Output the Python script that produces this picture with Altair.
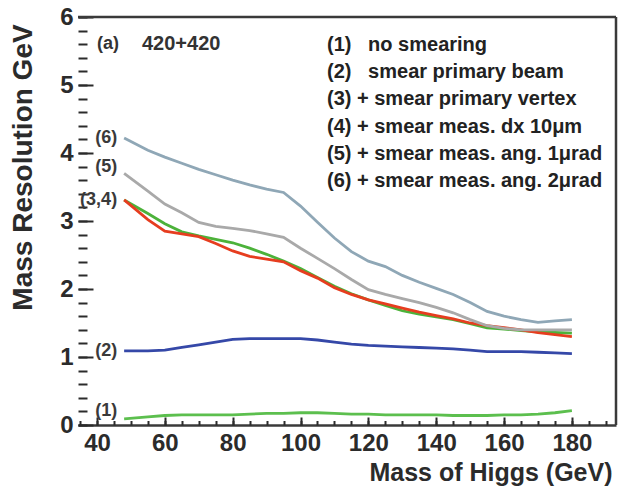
import altair as alt
import pandas as pd

# Higgs mass points (GeV) at which the resolution was evaluated
mass = [48, 55, 60, 65, 70, 75, 80, 85, 90, 95, 100, 105, 110, 115,
        120, 125, 130, 135, 140, 145, 150, 155, 160, 165, 170, 175, 180]

# Mass resolution (GeV) for each smearing scenario
res_no_smearing = [0.09, 0.12, 0.14, 0.15, 0.15, 0.15, 0.15, 0.16, 0.17, 0.17, 0.18, 0.18, 0.17, 0.16,
                   0.16, 0.15, 0.15, 0.15, 0.15, 0.14, 0.14, 0.14, 0.15, 0.15, 0.16, 0.18, 0.21]
res_beam = [1.09, 1.09, 1.10, 1.14, 1.18, 1.22, 1.26, 1.27, 1.27, 1.27, 1.27, 1.25, 1.22, 1.19,
            1.17, 1.16, 1.15, 1.14, 1.13, 1.12, 1.10, 1.08, 1.08, 1.08, 1.07, 1.06, 1.05]
res_vertex = [3.31, 3.11, 2.96, 2.84, 2.78, 2.73, 2.68, 2.60, 2.51, 2.41, 2.30, 2.17, 2.04, 1.93,
              1.84, 1.76, 1.68, 1.63, 1.59, 1.55, 1.49, 1.43, 1.41, 1.39, 1.37, 1.36, 1.35]
res_dx10 = [3.31, 3.02, 2.85, 2.81, 2.77, 2.67, 2.56, 2.48, 2.44, 2.40, 2.27, 2.16, 2.02, 1.92,
            1.84, 1.78, 1.72, 1.66, 1.61, 1.56, 1.50, 1.46, 1.43, 1.40, 1.36, 1.33, 1.30]
res_ang1 = [3.70, 3.44, 3.25, 3.12, 2.98, 2.92, 2.89, 2.86, 2.81, 2.76, 2.60, 2.45, 2.30, 2.14,
            1.99, 1.92, 1.86, 1.80, 1.73, 1.65, 1.55, 1.46, 1.42, 1.40, 1.40, 1.40, 1.40]
res_ang2 = [4.22, 4.04, 3.94, 3.85, 3.76, 3.68, 3.60, 3.53, 3.47, 3.42, 3.22, 2.98, 2.75, 2.55,
            2.41, 2.33, 2.20, 2.10, 2.01, 1.92, 1.80, 1.67, 1.60, 1.55, 1.51, 1.53, 1.55]

series_names = ["(1)", "(2)", "(3)", "(4)", "(5)", "(6)"]
series_colors = ["#5cbf4e", "#3548a8", "#4cb23a", "#e63d1f", "#a9a9a9", "#8fa7b6"]
series_values = [res_no_smearing, res_beam, res_vertex, res_dx10, res_ang1, res_ang2]

legend_lines = [
    "(1)\u00a0\u00a0\u00a0no smearing",
    "(2)\u00a0\u00a0\u00a0smear primary beam",
    "(3) + smear primary vertex",
    "(4) + smear meas. dx 10\u03bcm",
    "(5) + smear meas. ang. 1\u03bcrad",
    "(6) + smear meas. ang. 2\u03bcrad",
]

# curve tags drawn at the start of each curve; (3) and (4) share one tag
tag_series = ["(1)", "(2)", "(3)", "(5)", "(6)"]
tag_text = ["(1)", "(2)", "(3,4)", "(5)", "(6)"]

x_major = [40, 60, 80, 100, 120, 140, 160, 180]
x_minor = list(range(35, 195, 5))
y_major = [0, 1, 2, 3, 4, 5, 6]
y_minor = [round(i * 0.2, 1) for i in range(31)]

rows = []
for name, vals in zip(series_names, series_values):
    for m, v in zip(mass, vals):
        rows.append({"mass": m, "res": v, "series": name})
df = pd.DataFrame(rows)

lift = {"(1)": 0.11, "(5)": 0.09}
tags = pd.DataFrame({
    "mass": [mass[0]] * len(tag_series),
    "res": [series_values[series_names.index(s)][0] + lift.get(s, 0.0) for s in tag_series],
    "tag": tag_text,
})

X_DOMAIN = [34.4, 193]
Y_DOMAIN = [0, 6]
frame = pd.DataFrame({
    "x": [X_DOMAIN[0], X_DOMAIN[1]],
    "x2": [X_DOMAIN[1], X_DOMAIN[1]],
    "y": [Y_DOMAIN[1], Y_DOMAIN[0]],
    "y2": [Y_DOMAIN[1], Y_DOMAIN[1]],
})

FONT = "Liberation Sans"
INK = "#2b2b2b"
xs = alt.Scale(domain=X_DOMAIN, nice=False, zero=False)
ys = alt.Scale(domain=Y_DOMAIN, nice=False)

lines = alt.Chart(df).mark_line(strokeWidth=2.8).encode(
    x=alt.X("mass:Q", scale=xs, axis=alt.Axis(
        orient="bottom", values=x_major, tickSize=8, offset=-8, domain=False,
        tickWidth=2, tickColor=INK, grid=False, title=None,
        labelFont=FONT, labelFontSize=24, labelFontWeight="bold", labelColor=INK,
        labelPadding=6, labelFlush=False)),
    y=alt.Y("res:Q", scale=ys, axis=alt.Axis(
        orient="left", values=y_major, tickSize=15, offset=-15, domain=False,
        tickWidth=2, tickColor=INK, grid=False, title=None,
        labelFont=FONT, labelFontSize=24, labelFontWeight="bold", labelColor=INK,
        labelPadding=5)),
    color=alt.Color("series:N", scale=alt.Scale(domain=series_names, range=series_colors), legend=None),
)

tag_layer = alt.Chart(tags).mark_text(
    align="right", baseline="middle", dx=-7, font=FONT, fontSize=18, fontWeight="bold", color="#3a3a3a"
).encode(
    x=alt.X("mass:Q", scale=xs, axis=alt.Axis(
        orient="bottom", values=x_minor, tickSize=4.5, offset=-4.5, domain=False,
        tickWidth=2, tickColor=INK, labels=False, grid=False, title=None)),
    y=alt.Y("res:Q", scale=ys, axis=alt.Axis(
        orient="left", values=y_minor, tickSize=9, offset=-9, domain=False,
        tickWidth=2, tickColor=INK, labels=False, grid=False, title=None)),
    text="tag:N",
)

frame_layer = alt.Chart(frame).mark_rule(strokeWidth=2.5, color="#3a3a3a").encode(
    x=alt.X("x:Q", scale=xs, axis=alt.Axis(
        orient="bottom", domain=True, domainWidth=2.5, domainColor="#3a3a3a",
        ticks=False, labels=False, grid=False,
        title="Mass of Higgs (GeV)", titleFont=FONT, titleFontSize=25, titleFontWeight="bold",
        titleColor=INK, titleAlign="right", titleX=534, titleY=55, titleBaseline="alphabetic")),
    x2="x2:Q",
    y=alt.Y("y:Q", scale=ys, axis=alt.Axis(
        orient="left", domain=False, ticks=False, labels=False, grid=False,
        title="Mass Resolution GeV", titleFont=FONT, titleFontSize=28, titleFontWeight="bold",
        titleColor=INK, titleAngle=270, titleAlign="center", titleX=-47, titleY=150,
        titleBaseline="alphabetic")),
    y2="y2:Q",
)

panel_tag = alt.Chart(pd.DataFrame({"t": ["(a)"]})).mark_text(
    align="left", baseline="middle", font=FONT, fontSize=18, fontWeight="bold", color="#333333"
).encode(x=alt.value(19), y=alt.value(27), text="t:N")

energy_tag = alt.Chart(pd.DataFrame({"t": ["420+420"]})).mark_text(
    align="left", baseline="middle", font=FONT, fontSize=20, fontWeight="bold", color="#333333"
).encode(x=alt.value(64), y=alt.value(27), text="t:N")

legend_text = alt.Chart(pd.DataFrame({"k": [0]})).mark_text(
    align="left", baseline="alphabetic", font=FONT, fontSize=20, fontWeight="bold",
    color="#222222", lineHeight=27.2
).encode(x=alt.value(249), y=alt.value(34), text=alt.value(legend_lines))

chart = alt.layer(
    frame_layer, tag_layer, lines, panel_tag, energy_tag, legend_text
).resolve_axis(
    x="independent", y="independent"
).properties(
    width=538, height=408,
    padding={"left": 78, "top": 17, "right": 2, "bottom": 62},
    autosize=alt.AutoSizeParams(type="none"),
    background="white",
).configure_view(stroke=None)

chart.save("out.html", embed_options={"renderer": "svg", "actions": False})
